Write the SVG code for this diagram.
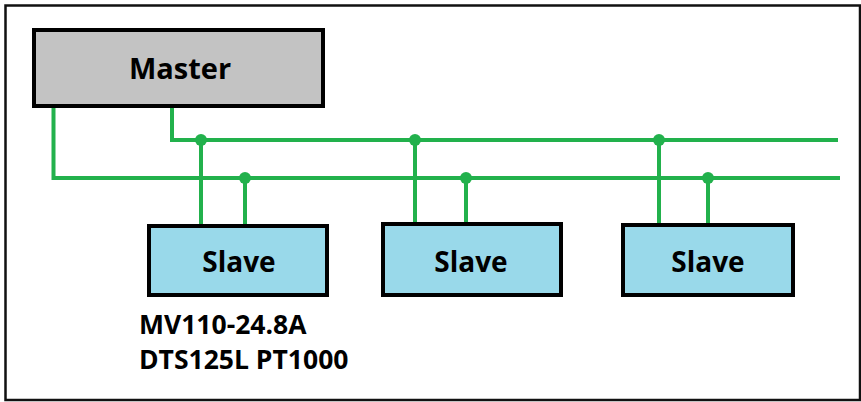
<svg xmlns="http://www.w3.org/2000/svg" width="861" height="402" viewBox="0 0 861 402">
<style>
.box{stroke:#000;stroke-width:4}
.master{fill:#c3c3c3}
.slave{fill:#99d9ea}
.lbl{font-family:"Open Sans","DejaVu Sans",sans-serif;font-weight:bold;fill:#000}
.wire{fill:none;stroke:#22b14c;stroke-width:4}
.dot{fill:#22b14c}
</style>
<rect x="5.5" y="5.5" width="854.5" height="394.5" fill="#fff" stroke="#111" stroke-width="2.5"/>
<g id="connectors">
<path class="wire" d="M53.5,108 V178 H840"/>
<path class="wire" d="M172,108 V140 H838"/>
<path class="wire" d="M201,140 V226 M245,178 V226"/>
<path class="wire" d="M415,140 V226 M466,178 V226"/>
<path class="wire" d="M659,140 V226 M708,178 V226"/>
<circle class="dot" cx="201" cy="140" r="6"/>
<circle class="dot" cx="245" cy="178" r="6"/>
<circle class="dot" cx="415" cy="140" r="6"/>
<circle class="dot" cx="466" cy="178" r="6"/>
<circle class="dot" cx="659" cy="140" r="6"/>
<circle class="dot" cx="708" cy="178" r="6"/>
</g>
<g id="master">
<rect class="box master" x="34" y="30" width="289" height="76"/>
<text class="lbl" x="180" y="79" font-size="29" text-anchor="middle">Master</text>
</g>
<g id="slave1">
<rect class="box slave" x="149" y="226" width="178" height="69"/>
<text class="lbl" x="239" y="272" font-size="28" text-anchor="middle">Slave</text>
</g>
<g id="slave2">
<rect class="box slave" x="383" y="224" width="178" height="71"/>
<text class="lbl" x="471" y="272" font-size="28" text-anchor="middle">Slave</text>
</g>
<g id="slave3">
<rect class="box slave" x="623" y="225" width="170" height="70"/>
<text class="lbl" x="708" y="272" font-size="28" text-anchor="middle">Slave</text>
</g>
<g id="label">
<text class="lbl" x="139" y="334" font-size="26.5">MV110-24.8A</text>
<text class="lbl" x="139" y="369" font-size="26.5">DTS125L PT1000</text>
</g>
</svg>
